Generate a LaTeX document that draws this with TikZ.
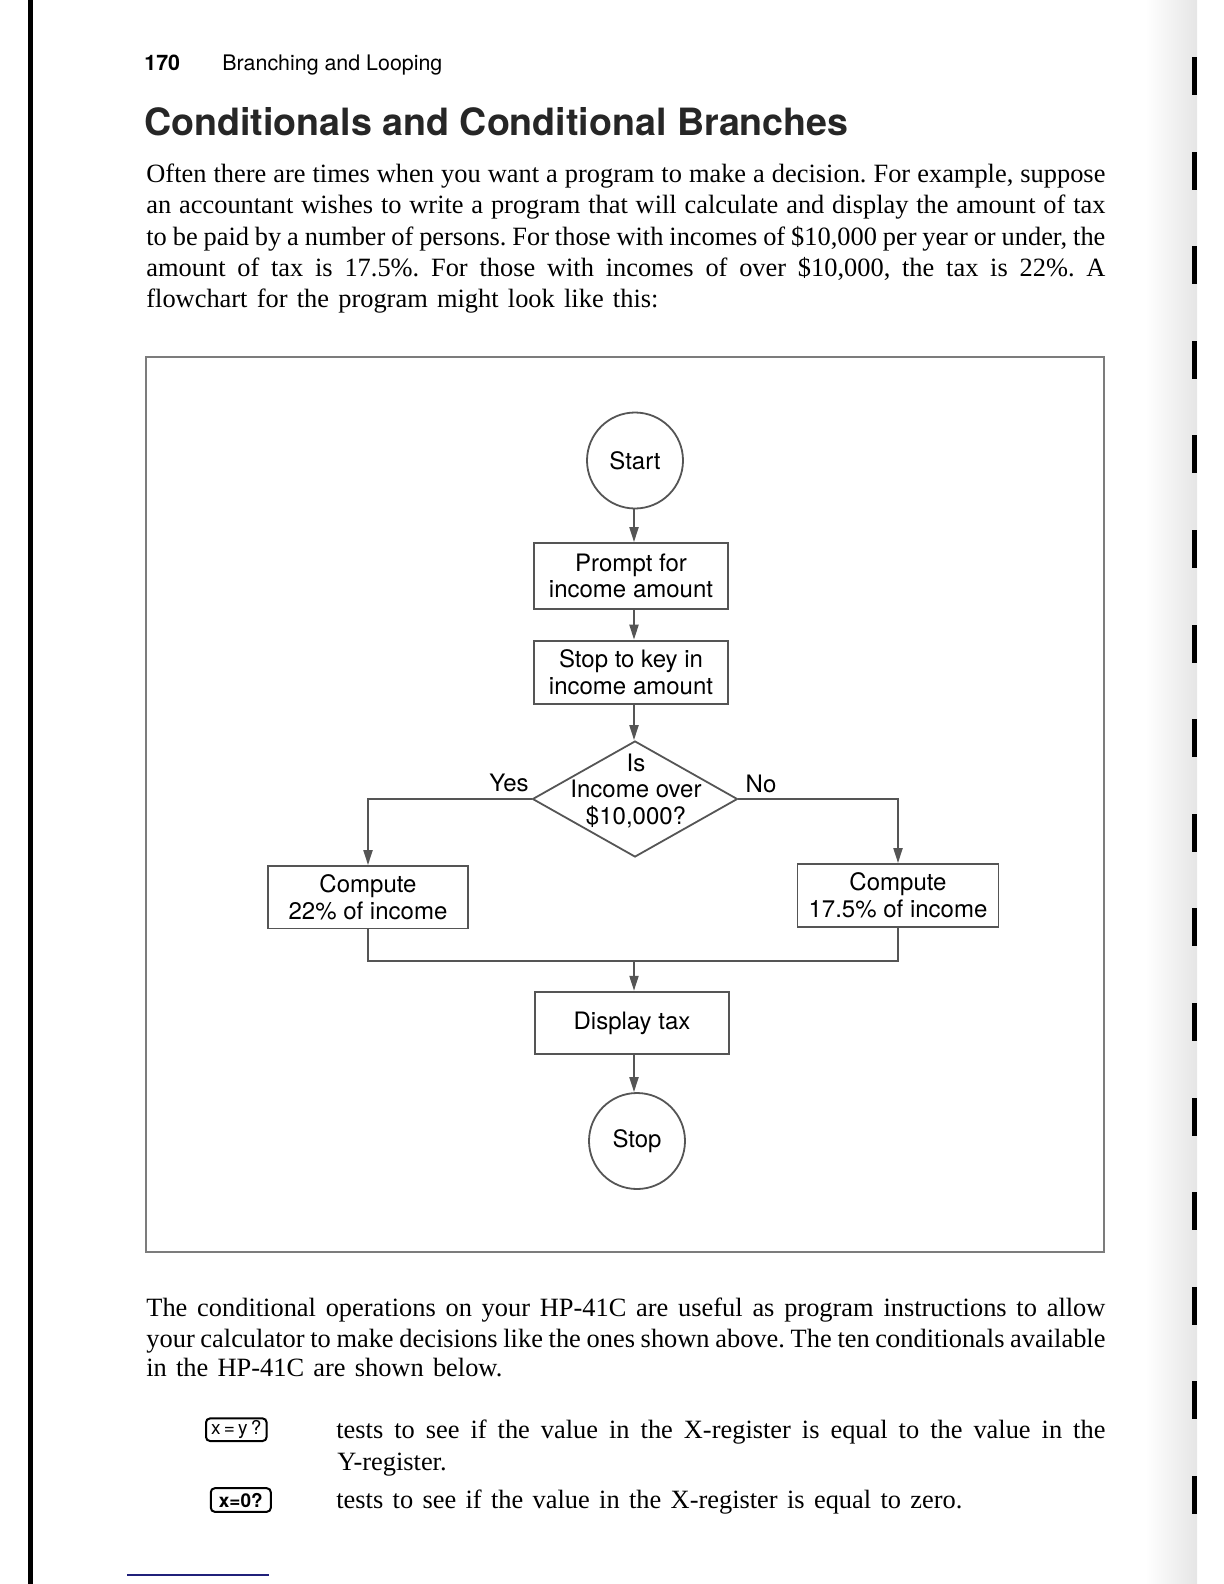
\documentclass[tikz,border=0pt]{standalone}
\usepackage{fontspec}
\setmainfont{Liberation Serif}
\newfontfamily\helv{TeX Gyre Heros}
\usepackage{xcolor}
\usepackage{tikz}
\usetikzlibrary{shapes,arrows,positioning,calc,arrows.meta}
\frenchspacing

\definecolor{chartgray}{HTML}{555555}
\definecolor{framegray}{HTML}{7C7C7C}
\definecolor{rulenavy}{HTML}{20207A}

\begin{document}
\begin{tikzpicture}[x=0.5pt,y=-0.5pt,
    bodytext/.style={anchor=base west, inner sep=0pt, font=\fontsize{13.2}{15.6}\selectfont},
    chart/.style={font=\helv\fontsize{12}{13.2}\selectfont, align=center},
    box/.style={chart, draw=chartgray, line width=0.9pt, minimum width=97pt, inner sep=0pt},
    circ/.style={chart, circle, draw=chartgray, line width=0.9pt, minimum size=48pt, inner sep=0pt},
    decision/.style={diamond, draw=chartgray, line width=0.9pt, minimum width=102.5pt, minimum height=58pt, inner sep=0pt},
    flow/.style={draw=chartgray, line width=1pt, -{Triangle[length=7.5pt,width=4.5pt]}},
    link/.style={draw=chartgray, line width=1pt},
    keycap/.style={draw, line width=1pt, rounded corners=2pt, inner sep=0pt, font=\helv\fontsize{9.5}{10}\selectfont}
]
    \useasboundingbox (0,0) rectangle (1224,1584);

    % Page edges
    \fill[black] (28,0) rectangle (33,1584);
    \shade[left color=white, right color=black!10] (1145,0) rectangle (1197,1584);
    \foreach \k in {0,...,15}
        \fill[black] (1192,{57+94.6*\k}) rectangle (1197,{95+94.6*\k});

    % Running head and title
    \node[anchor=base west, inner sep=0pt, font=\helv\bfseries\fontsize{10.7}{12}\selectfont] (pagenum) at (144,70.5) {170};
    \node[anchor=base west, inner sep=0pt, font=\helv\fontsize{10.7}{12}\selectfont] (runhead) at (222,70.5) {Branching and Looping};
    \node[anchor=base west, inner sep=0pt, font=\helv\bfseries\fontsize{18.8}{22}\selectfont, text=black!85] (title) at (144,135) {Conditionals and Conditional Branches};

    % Opening paragraph
    \node[bodytext] (introA) at (146,182.7) {\makebox[479.5pt][s]{Often there are times when you want a program to make a decision. For example, suppose}};
    \node[bodytext] (introB) at (146,213) {\makebox[479.5pt][s]{an accountant wishes to write a program that will calculate and display the amount of tax}};
    \node[bodytext] (introC) at (146,245) {\makebox[479.5pt][s]{to be paid by a number of persons. For those with incomes of \$10,000 per year or under, the}};
    \node[bodytext] (introD) at (146,276.7) {\makebox[479.5pt][s]{amount of tax is 17.5\%. For those with incomes of over \$10,000, the tax is 22\%. A}};
    \node[bodytext] (introE) at (146,307.3) {\makebox[256pt][s]{flowchart for the program might look like this:}};

    % Figure frame
    \draw[framegray, line width=0.9pt] (146,357) rectangle (1104,1252);

    % Flowchart
    \node[circ] (start) at (635,460.5) {Start};
    \node[box, minimum height=33pt] (prompt) at (631,576) {Prompt for\\income amount};
    \node[box, minimum height=31.7pt] (keyin) at (631,672.3) {Stop to key in\\income amount};
    \node[decision] (dec) at (635,799) {};
    \node[chart, inner sep=0pt] (dectext) at (636,791) {Is\\Income over\\\$10,000?};
    \node[box, minimum width=100.3pt, minimum height=31.2pt] (pctA) at (368,897.2) {Compute\\22\% of income};
    \node[box, minimum width=100.5pt, minimum height=31.3pt] (pctB) at (898,895.3) {Compute\\17.5\% of income};
    \node[box, minimum height=31.3pt] (disp) at (632,1023) {Display tax};
    \node[circ] (stop) at (637,1141) {Stop};

    \node[chart, anchor=base] (yes) at (509,791.7) {Yes};
    \node[chart, anchor=base] (no) at (761,792) {No};

    \coordinate (merge) at (634,961);

    \draw[flow] (start.south -| 634,0) -- (634,0 |- prompt.north);
    \draw[flow] (634,0 |- prompt.south) -- (634,0 |- keyin.north);
    \draw[flow] (634,0 |- keyin.south) -- (634,0 |- dec.north);
    \draw[flow] (dec.west) -| (pctA.north);
    \draw[flow] (dec.east) -| (pctB.north);
    \draw[link] (pctA.south) |- (merge) -| (pctB.south);
    \draw[flow] (merge) -- (merge |- disp.north);
    \draw[flow] (634,0 |- disp.south) -- (634,0 |- stop.north);

    % Second paragraph
    \node[bodytext] (condA) at (146,1316.7) {\makebox[479.5pt][s]{The conditional operations on your HP-41C are useful as program instructions to allow}};
    \node[bodytext] (condB) at (146,1347.3) {\makebox[479.5pt][s]{your calculator to make decisions like the ones shown above. The ten conditionals available}};
    \node[bodytext] (condC) at (146,1376.7) {\makebox[178pt][s]{in the HP-41C are shown below.}};

    % Keys
    \node[keycap, minimum width=30.3pt, minimum height=11.3pt] (xeqy) at (236.3,1429.7) {x\,=\,y\,?};
    \node[keycap, minimum width=30pt, minimum height=11.8pt, font=\helv\bfseries\fontsize{9.5}{10}\selectfont] (xeqz) at (240.8,1500) {x=0?};

    \node[bodytext] (descA) at (336,1438) {\makebox[384.5pt][s]{tests to see if the value in the X-register is equal to the value in the}};
    \node[bodytext] (descB) at (337,1470) {Y-register.};
    \node[bodytext] (descC) at (336,1508) {\makebox[313pt][s]{tests to see if the value in the X-register is equal to zero.}};

    % Footnote rule
    \draw[rulenavy, line width=0.8pt] (127,1575) -- (269,1575);
\end{tikzpicture}
\end{document}
